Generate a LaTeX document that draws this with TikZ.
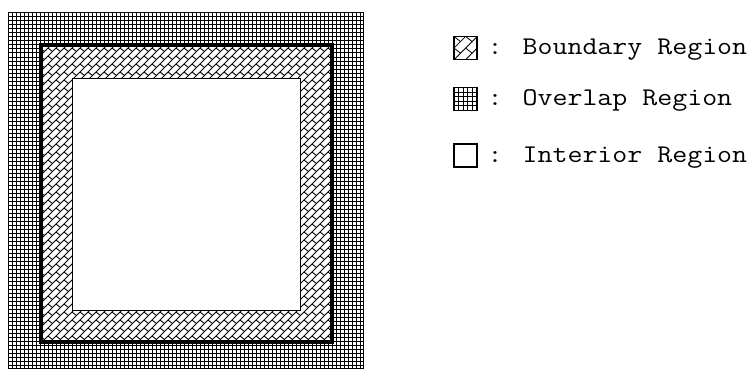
\documentclass[tikz,border=0pt]{standalone}
\usepackage{graphicx}
\begin{document}
\begin{tikzpicture}[x=1pt,y=-1pt,
  gridln/.style={line width=1pt,black},
  shing/.style={line width=0.9pt,black},
  legtext/.style={anchor=base west,inner sep=0pt,font=\ttfamily\fontsize{25.5pt}{30pt}\selectfont}]
\useasboundingbox (0,0) rectangle (751,369);
% ---------- overlap region (grid) ----------
\begin{scope}
  \clip (8,13) rectangle (363,368);
  \foreach \i in {0,...,89} \draw[gridln] (8+4*\i,13) -- (8+4*\i,368);
  \foreach \j in {0,...,89} \draw[gridln] (8,13+4*\j) -- (363,13+4*\j);
\end{scope}
\draw[line width=1pt] (8,13) rectangle (363,368);
% ---------- boundary region (shingle) ----------
\fill[white] (41,45) rectangle (332,341.5);
\begin{scope}
  \clip (41,45) rectangle (332,341.5);
  \draw[shing] foreach \n in {10,...,85} { (8*\n-350,350) -- (8*\n-40,40) };
  \draw[shing] foreach \a in {4,...,42} { foreach \b in {4,...,43} { (8*\a,8*\b) -- ++(4.5,3.5) } };
\end{scope}
% ---------- interior region ----------
\filldraw[fill=white,line width=0.9pt] (72,78) rectangle (300,310);
\draw[line width=4pt] (41,45) rectangle (332,341.5);
% ---------- legend ----------
\begin{scope}
  \clip (454,36.5) rectangle (477,59.5);
  \begin{scope}[shift={(454,36.5)},scale=1.45]
    \draw[shing,line width=0.8pt] foreach \n in {0,...,5} { (8*\n-20,20) -- (8*\n,0) };
    \draw[shing,line width=0.8pt] foreach \a in {-1,...,3} { foreach \b in {-1,...,3} { (8*\a,8*\b) -- ++(4.5,3.5) } };
  \end{scope}
\end{scope}
\draw[line width=1.2pt] (454,36.5) rectangle (477,59.5);
\begin{scope}
  \clip (454,87.5) rectangle (477,110.5);
  \foreach \k in {1,...,4} {
    \draw[gridln] (454+4.6*\k,87.5) -- (454+4.6*\k,110.5);
    \draw[gridln] (454,87.5+4.6*\k) -- (477,87.5+4.6*\k);
  }
\end{scope}
\draw[line width=1.2pt] (454,87.5) rectangle (477,110.5);
\draw[line width=1.2pt] (454,144) rectangle (477,167);
\node[legtext] (tb) at (487.5,54.5) {\scalebox{1.14}[1]{: Boundary Region}};
\node[legtext] (to) at (487.5,105.5) {\scalebox{1.14}[1]{: Overlap Region}};
\node[legtext] (ti) at (487.5,162) {\scalebox{1.14}[1]{: Interior Region}};
\end{tikzpicture}
\end{document}
